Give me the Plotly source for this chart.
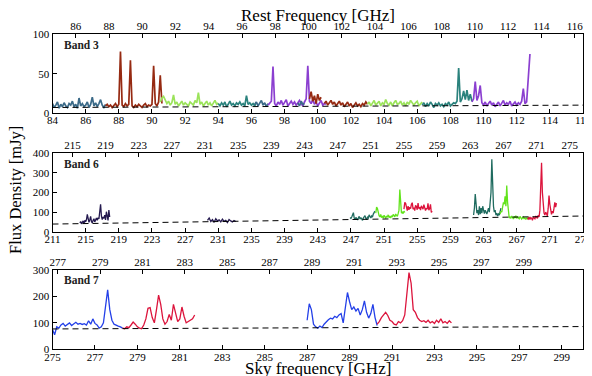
import plotly.graph_objects as go

# ---------------- DATA ----------------
# Each segment: (start GHz, channel step GHz, flux values mJy)
b3_blue1 = (84.0, 0.1, [12, 7, 10, 14, 6, 11, 8, 13, 9, 7, 12, 10, 15, 8, 11, 6, 19, 9, 12, 8,
                        10, 14, 7, 11, 20, 9, 13, 8, 12, 17, 10, 7, 11])
b3_red1 = (87.2, 0.1, [9, 11, 8, 10, 7, 9, 12, 8, 11, 78, 10, 8, 12, 9, 11, 67, 9, 7, 10, 8,
                       11, 9, 7, 10, 12, 8, 10, 9, 11, 60, 12, 9, 14, 48, 12])
b3_green1 = (90.5, 0.1, [14, 19, 21, 17, 12, 15, 10, 13, 23, 11, 14, 9, 12, 15, 10, 13, 11, 9, 14, 12,
                         10, 16, 13, 26, 11, 14, 9, 12, 15, 10, 13, 9, 12, 16, 11, 13])
b3_teal1 = (94.0, 0.1, [12, 9, 13, 10, 14, 8, 11, 15, 10, 12, 9, 13, 11, 14, 10, 12, 9, 22, 11, 13,
                        10, 12, 9, 14])
b3_blue2 = (96.2, 0.1, [11, 14, 9, 12, 16, 10, 13, 8, 12])
b3_purple1 = (97.0, 0.1, [10, 13, 15, 59, 12, 9, 14, 11, 16, 10, 13, 17, 9, 12, 15, 11, 14, 10, 13, 16,
                          12, 9, 14, 18, 60, 15, 12, 17, 11, 14, 9, 13, 16, 10, 12, 11])
b3_blue3 = (98.8, 0.1, [13, 9, 15, 11, 12])
b3_red2 = (99.5, 0.1, [18, 27, 15, 22, 12, 24, 16, 20])
b3_red3 = (100.4, 0.1, [12, 15, 10, 13, 16, 11, 14, 9, 12, 15, 10, 13, 8, 11, 14, 9, 12, 7, 10, 13,
                        9, 11, 8, 12, 10, 14, 11])
b3_green2 = (103.0, 0.1, [11, 14, 9, 13, 16, 10, 12, 15, 9, 13, 11, 17, 12, 10, 14, 9, 13, 16, 11, 12,
                          15, 10, 13, 9, 14, 11, 16, 12, 10, 13, 15, 9, 12, 14])
b3_teal2 = (106.3, 0.1, [10, 13, 8, 12, 9, 14, 11, 7, 12, 10, 13, 9, 11, 8, 12, 10, 14, 9, 11, 13,
                         12, 15, 57, 14, 18, 28, 17, 29, 16, 24, 15])
b3_purple2 = (109.3, 0.1, [14, 18, 40, 16, 22, 35, 13, 10, 14, 9, 12, 15, 10, 13, 8, 11, 14, 9, 12, 16,
                           10, 13, 11, 15, 9, 12, 14, 10, 13, 11, 15, 31, 12, 14, 40, 75])
b3_continuum = ([84, 116], [7, 10])

b6_navy1 = (214.3, 0.1, [45, 52, 40, 48, 55, 42, 58, 50, 62, 88, 55, 48, 60, 78, 52, 45, 58, 66, 50, 62,
                         70, 58, 72, 65, 95, 140, 80, 62, 75, 68, 85, 60, 102, 70, 58, 110, 75])
b6_navy2 = (229.7, 0.2, [58, 70, 52, 62, 48, 66, 55, 60, 50, 64, 53, 58, 47, 62, 55, 50, 57, 52])
b6_teal1 = (246.9, 0.1, [72, 68, 75, 88, 97, 70, 62, 73, 66, 60, 70, 78, 64, 72, 65, 58, 70, 75, 82, 68,
                         62, 74, 70, 86, 76, 70, 80, 75, 90, 96, 105])
b6_green1 = (250.0, 0.1, [95, 125, 118, 90, 82, 75, 88, 72, 80, 70, 84, 76, 68, 80, 74, 86, 72, 78, 70, 82,
                          75, 88, 80, 76, 90, 84, 78, 92, 110, 215, 120, 95, 100, 92, 105, 98])
b6_red1 = (253.4, 0.1, [115, 150, 145, 120, 108, 130, 112, 125, 118, 140, 148, 115, 122, 108, 135, 128, 112, 146, 118, 125,
                        110, 132, 120, 115, 138, 112, 108, 120, 115, 145, 110, 118, 140, 98, 105])
b6_teal2 = (261.8, 0.1, [85, 120, 192, 140, 95, 110, 85, 130, 90, 120, 95, 130, 100, 92, 110, 95, 90, 105, 120, 100,
                         140, 200, 369, 220, 130, 100, 110, 85, 95, 80, 90, 85, 98, 120])
b6_green2 = (265.0, 0.1, [90, 105, 100, 120, 150, 140, 180, 130, 235, 150, 85, 70, 75, 68, 80, 72, 65, 78, 70, 82,
                          68, 75, 70, 66, 78, 72, 64, 70, 75, 65, 72, 62, 70, 66, 72, 68])
b6_red2 = (268.3, 0.1, [70, 65, 75, 62, 72, 68, 58, 75, 70, 66, 80, 72, 68, 85, 75, 110, 200, 352, 200, 110,
                        95, 85, 100, 92, 80, 120, 184, 140, 95, 88, 105, 95, 120, 150, 125, 146])
b6_continuum = ([211, 275], [39, 80])

b7_blue1 = (275.0, 0.1, [75, 55, 85, 80, 92, 98, 88, 95, 100, 90, 96, 102, 95, 98, 94, 97, 92, 108, 95, 115,
                         98, 92, 80, 85, 100, 160, 225, 150, 110, 95, 90, 88, 85, 80])
b7_red1 = (278.3, 0.1, [80, 78, 85, 82, 92, 103, 95, 85, 80, 78, 92, 115, 155, 158, 120, 100, 150, 205, 170, 115,
                        95, 105, 132, 110, 170, 140, 105, 115, 160, 125, 100, 105, 110, 115, 130])
b7_blue2 = (287.0, 0.1, [110, 172, 150, 95, 85, 80, 88, 82, 95, 105, 112, 118, 115, 125, 120, 130, 135, 100, 150, 215,
                         180, 150, 160, 145, 155, 130, 150, 183, 140, 118, 135, 170, 120, 90])
b7_red2 = (290.3, 0.1, [95, 105, 120, 130, 140, 128, 110, 105, 95, 92, 105, 100, 108, 130, 220, 290, 250, 150, 140, 120,
                        110, 105, 108, 102, 110, 100, 105, 98, 110, 102, 115, 100, 105, 98, 108, 100])
b7_continuum = ([275, 300], [77, 86])

band_labels = ["Band 3", "Band 6", "Band 7"]
sky_ranges = [[84, 116], [211, 275], [275, 300]]
rest_ranges = [[84.6, 116.5], [212.6, 276.6], [276.75, 301.8]]
sky_ticks = [list(range(84, 117, 2)), list(range(211, 276, 4)), list(range(275, 300, 2))]
rest_ticks = [list(range(86, 117, 2)), list(range(215, 276, 4)), list(range(277, 300, 2))]
y_ranges = [[0, 100], [0, 400], [0, 300]]
y_ticks = [[0, 50, 100], [0, 100, 200, 300, 400], [0, 100, 200, 300]]

C_BLUE = "#3b6a88"
C_RED = "#962a12"
C_LGREEN = "#9be35a"
C_TEAL = "#2b827d"
C_PURPLE = "#8b3fd0"
C_NAVY = "#24194f"
C_DTEAL = "#1f6b5f"
C_GREEN = "#62e31c"
C_CRIMSON = "#dc143c"
C_BLUE7 = "#2440e8"

panels = [
    [(b3_blue1, C_BLUE), (b3_red1, C_RED), (b3_green1, C_LGREEN), (b3_teal1, C_TEAL),
     (b3_blue2, C_BLUE), (b3_purple1, C_PURPLE), (b3_blue3, C_BLUE), (b3_red2, C_RED),
     (b3_red3, C_RED), (b3_green2, C_LGREEN), (b3_teal2, C_TEAL), (b3_purple2, C_PURPLE)],
    [(b6_navy1, C_NAVY), (b6_navy2, C_NAVY), (b6_teal1, C_DTEAL), (b6_green1, C_GREEN),
     (b6_red1, C_CRIMSON), (b6_teal2, C_DTEAL), (b6_green2, C_GREEN), (b6_red2, C_CRIMSON)],
    [(b7_blue1, C_BLUE7), (b7_red1, C_CRIMSON), (b7_blue2, C_BLUE7), (b7_red2, C_CRIMSON)],
]
continua = [b3_continuum, b6_continuum, b7_continuum]
line_widths = [1.7, 1.3, 1.3]

# ---------------- FIGURE ----------------
# the page body has an 8px margin, so the figure is offset by 8px in the window
OFF = 8
W, H = 592 - OFF, 376 - OFF
X0, X1 = 52.5 - OFF, 583.0 - OFF
panel_px = [(34.3 - OFF, 113.0 - OFF), (153.3 - OFF, 231.7 - OFF), (270.0 - OFF, 349.3 - OFF)]
FONT = "Liberation Serif"

fig = go.Figure()
layout = dict(width=W, height=H, margin=dict(l=0, r=0, t=0, b=0, autoexpand=False),
              paper_bgcolor="white", plot_bgcolor="white", showlegend=False,
              font=dict(family=FONT, size=11, color="black"))

for i in range(3):
    n = i + 1
    xa = f"xaxis{'' if n == 1 else 2 * n - 1}"
    xt = f"xaxis{2 * n}"
    ya = f"yaxis{'' if n == 1 else n}"
    xref = "x" if n == 1 else f"x{2 * n - 1}"
    xtref = f"x{2 * n}"
    yref = "y" if n == 1 else f"y{n}"
    top, bot = panel_px[i]
    ydom = [1 - bot / H, 1 - top / H]
    xdom = [X0 / W, X1 / W]
    common = dict(showgrid=False, zeroline=False, ticks="inside", ticklen=4, tickwidth=1,
                  tickcolor="black", linecolor="black", linewidth=1, showline=True,
                  automargin=False,
                  tickfont=dict(family=FONT, size=11, color="black"))
    layout[xa] = dict(domain=xdom, anchor=yref, range=sky_ranges[i], tickvals=sky_ticks[i],
                      side="bottom", mirror=True, ticklabelstandoff=-3, **common)
    layout[xt] = dict(domain=xdom, anchor=yref, overlaying=xref, range=rest_ranges[i],
                      tickvals=rest_ticks[i], side="top", ticklabelstandoff=-1, **common)
    layout[ya] = dict(domain=ydom, anchor=xref, range=y_ranges[i], tickvals=y_ticks[i],
                      mirror=True, ticklabelstandoff=0, **common)

    for (start, step, vals), col in panels[i]:
        xs = [round(start + k * step, 3) for k in range(len(vals))]
        fig.add_trace(go.Scatter(x=xs, y=vals, mode="lines",
                                 line=dict(color=col, width=line_widths[i]),
                                 xaxis=xref, yaxis=yref, hoverinfo="skip"))
    cx, cy = continua[i]
    fig.add_trace(go.Scatter(x=cx, y=cy, mode="lines",
                             line=dict(color="black", width=1, dash="6px,4px"),
                             xaxis=xref, yaxis=yref, hoverinfo="skip"))
    # invisible trace to register the top (rest frequency) axis
    fig.add_trace(go.Scatter(x=rest_ranges[i], y=[None, None], mode="lines",
                             xaxis=xtref, yaxis=yref, hoverinfo="skip", showlegend=False))

annotations = []
for i in range(3):
    n = i + 1
    xref = "x" if n == 1 else f"x{2 * n - 1}"
    yref = "y" if n == 1 else f"y{n}"
    annotations.append(dict(text=f"<b>{band_labels[i]}</b>", xref=f"{xref} domain", yref=f"{yref} domain",
                            x=0.018, y=0.97, xanchor="left", yanchor="top", showarrow=False,
                            font=dict(family=FONT, size=11.5, color="#222")))
annotations.append(dict(text="Rest Frequency [GHz]", xref="paper", yref="paper", x=(318 - OFF) / W,
                        y=1 - (15 - OFF) / H, xanchor="center", yanchor="middle", showarrow=False,
                        font=dict(family=FONT, size=17, color="black")))
annotations.append(dict(text="Sky frequency [GHz]", xref="paper", yref="paper", x=(318 - OFF) / W,
                        y=1 - (368.5 - OFF) / H, xanchor="center", yanchor="middle", showarrow=False,
                        font=dict(family=FONT, size=17, color="black")))
annotations.append(dict(text="Flux Density [mJy]", xref="paper", yref="paper", x=(15 - OFF) / W,
                        y=1 - (190 - OFF) / H, xanchor="center", yanchor="middle", textangle=-90,
                        showarrow=False, font=dict(family=FONT, size=16.5, color="black")))
layout["annotations"] = annotations
fig.update_layout(**layout)
fig.write_html("out.html")
